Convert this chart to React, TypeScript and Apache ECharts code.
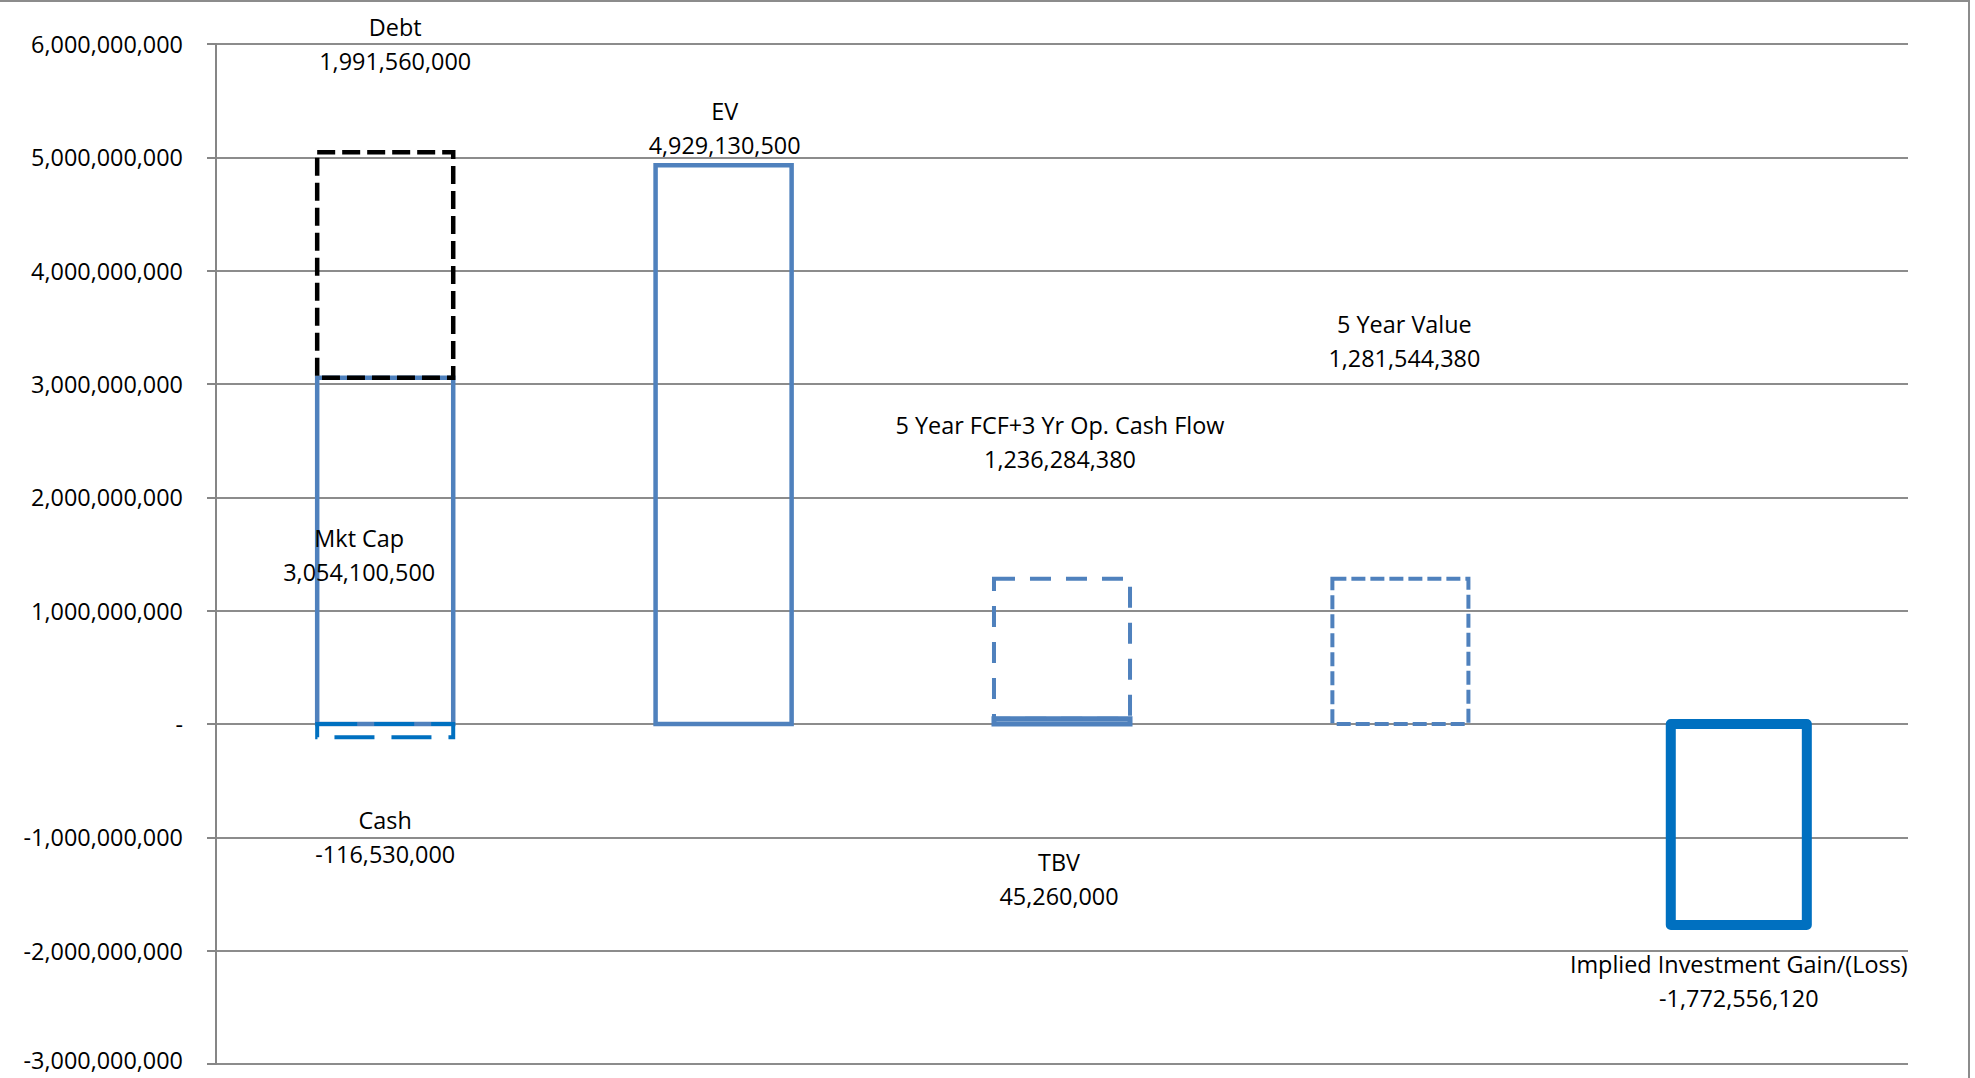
import React, { useEffect, useRef } from "react";
import * as echarts from "echarts";

// ---- data ----
const categories = ["Market", "EV", "Book", "Value", "Gain"];
const itemNames = [
  "Mkt Cap",
  "Debt",
  "Cash",
  "EV",
  "TBV",
  "5 Year FCF+3 Yr Op. Cash Flow",
  "5 Year Value",
  "Implied Investment Gain/(Loss)",
];
const itemValues = [
  3054100500, 1991560000, -116530000, 4929130500, 45260000, 1236284380, 1281544380, -1772556120,
];
const itemColumn = [0, 0, 0, 1, 2, 2, 3, 4];
const yMin = -3000000000;
const yMax = 6000000000;
const yStep = 1000000000;

// ---- styles (not data) ----
const itemStyles: { color: string; width: number; dash: number[] | null; label: number[] }[] = [
  { color: "#4F81BD", width: 4.5, dash: null, label: [-26, 4] },
  { color: "#000000", width: 4.5, dash: [18, 7], label: [10, -221] },
  { color: "#0070C0", width: 4, dash: [40, 17], label: [0, 106] },
  { color: "#4F81BD", width: 4.5, dash: null, label: [1, -317] },
  { color: "#4F81BD", width: 5, dash: null, label: [-3, 158] },
  { color: "#4F81BD", width: 4, dash: [21, 15], label: [-2, -207] },
  { color: "#4F81BD", width: 4, dash: [14, 5], label: [4, -310] },
  { color: "#0070C0", width: 10, dash: null, label: [0, 157] },
];
const BAR_FRACTION = 0.402;
const FONT = "'Open Sans', sans-serif";
const FONT_SIZE = 23.4;

const fmt = (v: number) => {
  if (v === 0) return "-";
  const s = Math.abs(Math.round(v)).toString().replace(/\B(?=(\d{3})+(?!\d))/g, ",");
  return (v < 0 ? "-" : "") + s;
};

// stacked ranges built from the data arrays
const buildRows = () => {
  const pos: number[] = categories.map(() => 0);
  const neg: number[] = categories.map(() => 0);
  return itemValues.map((v, i) => {
    const c = itemColumn[i];
    let base: number;
    if (v >= 0) {
      base = pos[c];
      pos[c] += v;
    } else {
      base = neg[c];
      neg[c] += v;
    }
    return [c, base, base + v, i];
  });
};

export default function App() {
  const ref = useRef<HTMLDivElement>(null);
  useEffect(() => {
    document.body.style.margin = "0";
    if (!ref.current) return;
    const chart = echarts.init(ref.current, undefined, { renderer: "svg" });
    const rows = buildRows();
    chart.setOption({
      animation: false,
      grid: { left: 216, right: 67, top: 44, bottom: 14, containLabel: false },
      xAxis: {
        type: "category",
        data: categories,
        axisLine: { show: false },
        axisTick: { show: false },
        axisLabel: { show: false },
        splitLine: { show: false },
      },
      yAxis: {
        type: "value",
        min: yMin,
        max: yMax,
        interval: yStep,
        axisLine: { show: true, lineStyle: { color: "#868686", width: 2 } },
        axisTick: { show: true, length: 9, lineStyle: { color: "#868686", width: 2 } },
        axisLabel: {
          margin: 33,
          color: "#000",
          fontFamily: FONT,
          fontSize: FONT_SIZE,
          formatter: (v: number) => (v === yMin ? `{low|${fmt(v)}}` : fmt(v)),
          rich: {
            low: {
              color: "#000",
              fontFamily: FONT,
              fontSize: FONT_SIZE,
              padding: [0, 0, 8, 0],
            },
          },
        },
        splitLine: { show: true, lineStyle: { color: "#8C8C8C", width: 2 } },
      },
      graphic: [
        {
          type: "rect",
          shape: { x: -5, y: 1, width: 1974, height: 1200 },
          style: { fill: "none", stroke: "#8C8C8C", lineWidth: 2 },
          silent: true,
        },
      ],
      series: [
        {
          type: "custom",
          name: "Valuation",
          data: rows,
          encode: { x: 0, y: [1, 2] },
          clip: false,
          silent: true,
          renderItem: (_params: any, api: any) => {
            const col = api.value(0);
            const v0 = api.value(1);
            const v1 = api.value(2);
            const k = api.value(3);
            const p0 = api.coord([col, v0]);
            const p1 = api.coord([col, v1]);
            const band = api.size([1, 0])[0];
            const w = band * BAR_FRACTION;
            const st = itemStyles[k];
            const y = Math.min(p0[1], p1[1]);
            const h = Math.abs(p1[1] - p0[1]);
            const cx = p0[0];
            const midY = (p0[1] + p1[1]) / 2;
            return {
              type: "group",
              children: [
                {
                  type: "rect",
                  shape: { x: cx - w / 2, y, width: w, height: h },
                  style: {
                    fill: "none",
                    stroke: st.color,
                    lineWidth: st.width,
                    lineDash: st.dash || undefined,
                    lineJoin: k === 7 ? "round" : "miter",
                  },
                },
                {
                  type: "text",
                  x: cx + st.label[0],
                  y: midY + st.label[1],
                  style: {
                    text: `${itemNames[k]}\n${fmt(itemValues[k])}`,
                    fill: "#000",
                    fontFamily: FONT,
                    fontSize: FONT_SIZE,
                    lineHeight: 34,
                    align: "center",
                    verticalAlign: "middle",
                  },
                  z2: 10,
                },
              ],
            };
          },
        },
      ],
    });
    return () => chart.dispose();
  }, []);
  return <div ref={ref} style={{ width: 1975, height: 1078 }} />;
}
